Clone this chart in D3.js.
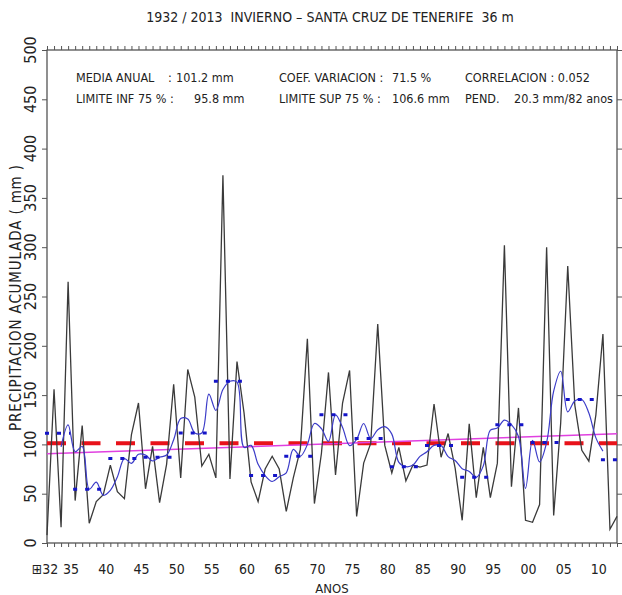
<!DOCTYPE html>
<html>
<head>
<meta charset="utf-8">
<script src="https://cdn.jsdelivr.net/npm/d3@7"></script>
<style>
  html, body { margin: 0; padding: 0; background: #fff; }
  svg { display: block; }
  text { font-family: "Liberation Sans Narrow", "DejaVu Sans Condensed", "Liberation Sans", sans-serif; fill: #222; }
</style>
</head>
<body>
<svg id="chart" width="622" height="595"></svg>
<script>
// ---- data ----
const years = d3.range(1932, 2014);
const precip = [
  8, 156, 16, 265,                 // 1932-1935
  43, 119, 20, 42, 49,             // 1936-1940
  79, 52, 45, 110, 142,            // 1941-1945
  55, 98, 41, 80, 161,             // 1946-1950
  66, 176, 148, 78, 90,            // 1951-1955
  66, 373, 65, 184, 132,           // 1956-1960
  62, 42, 75, 88, 75,              // 1961-1965
  32, 66, 95, 207, 40,             // 1966-1970
  91, 173, 69, 142, 175,           // 1971-1975
  27, 81, 101, 222, 99,            // 1976-1980
  71, 97, 63, 79, 77,              // 1981-1985
  79, 141, 87, 111, 76,            // 1986-1990
  23, 121, 46, 97, 46,             // 1991-1995
  81, 302, 57, 137, 23,            // 1996-2000
  21, 39, 300, 28, 122,            // 2001-2005
  281, 140, 94, 83, 130,           // 2006-2010
  212, 14, 27                      // 2011-2013
];
const mediaAnual = 101.2;
const trendYears = [1932, 2013];
const trendValues = [90.5, 110.8];
const blockStarts = [1932, 1936, 1941, 1946, 1951, 1956, 1961, 1966, 1971, 1976, 1981, 1986, 1991, 1996, 2001, 2006, 2011];
const yTicks = [0, 50, 100, 150, 200, 250, 300, 350, 400, 450, 500];
const xLabelYears = [1932, 1935, 1940, 1945, 1950, 1955, 1960, 1965, 1970, 1975, 1980, 1985, 1990, 1995, 2000, 2005, 2010];
const xLabels = ["⊞32", "35", "40", "45", "50", "55", "60", "65", "70", "75", "80", "85", "90", "95", "00", "05", "10"];
const titleText = "1932 / 2013  INVIERNO – SANTA CRUZ DE TENERIFE  36 m";

// ---- derived: 5-year centred running mean and 5-year block means ----
const series = years.map((yr, i) => ({ year: yr, v: precip[i] }));
const movingAvg = [];
for (let i = 2; i < series.length - 2; i++) {
  movingAvg.push({ year: series[i].year, v: d3.mean(series.slice(i - 2, i + 3), d => d.v) });
}
const blocks = blockStarts.map((s, k) => {
  const e = k < blockStarts.length - 1 ? blockStarts[k + 1] - 1 : 2013;
  const vals = series.filter(d => d.year >= s && d.year <= e).map(d => d.v);
  return { start: s, end: e, v: d3.mean(vals) };
});

// ---- scales ----
const svg = d3.select("#chart");
const x = d3.scaleLinear().domain([1932, 2013]).range([47, 617]);
const y = d3.scaleLinear().domain([0, 500]).range([543, 50]);
const axisColor = "#555";

// title
svg.append("text").attr("x", 330).attr("y", 22).attr("text-anchor", "middle")
  .attr("font-size", 14).style("white-space", "pre").attr("xml:space", "preserve").text(titleText);

// frame
svg.append("rect").attr("x", x(1932)).attr("y", y(500))
  .attr("width", x(2013) - x(1932)).attr("height", y(0) - y(500))
  .attr("fill", "none").attr("stroke", axisColor).attr("stroke-width", 1.3);

// bottom axis ticks (each year)
const gB = svg.append("g").attr("transform", `translate(0,${y(0)})`)
  .call(d3.axisBottom(x).tickValues(years).tickSize(4).tickFormat(""));
// top axis ticks
const gT = svg.append("g").attr("transform", `translate(0,${y(500)})`)
  .call(d3.axisTop(x).tickValues(years).tickSize(4).tickFormat(""));
// left and right axes
const gL = svg.append("g").attr("transform", `translate(${x(1932)},0)`)
  .call(d3.axisLeft(y).tickValues(yTicks).tickSize(5).tickFormat(""));
const gR = svg.append("g").attr("transform", `translate(${x(2013)},0)`)
  .call(d3.axisRight(y).tickValues(yTicks).tickSize(5).tickFormat(""));
[gB, gT, gL, gR].forEach(g => {
  g.select(".domain").remove();
  g.selectAll("line").attr("stroke", axisColor).attr("stroke-width", 1);
});

// y labels (rotated)
svg.append("g").selectAll("text").data(yTicks).join("text")
  .attr("transform", d => `translate(36,${y(d)}) rotate(-90)`)
  .attr("text-anchor", "middle").attr("font-size", 16).attr("fill", "#333").text(d => d);
svg.append("text")
  .attr("transform", `translate(21,${298}) rotate(-90)`)
  .attr("text-anchor", "middle").attr("font-size", 15)
  .attr("textLength", 266).attr("lengthAdjust", "spacing")
  .style("white-space", "pre").attr("xml:space", "preserve")
  .text("PRECIPITACION ACUMULADA ( mm )");

// x labels
svg.append("g").selectAll("text").data(xLabelYears).join("text")
  .attr("x", (d, i) => x(d) + (i === 0 ? -2 : 3)).attr("y", 574)
  .attr("text-anchor", "middle").attr("font-size", 14)
  .text((d, i) => xLabels[i]);
svg.append("text").attr("x", 332).attr("y", 593).attr("text-anchor", "middle")
  .attr("font-size", 13).text("ANOS");

// stats text
const stats = [
  ["MEDIA ANUAL", 76, 82], [":", 168, 82], ["101.2 mm", 176, 82],
  ["COEF. VARIACION :", 279, 82], ["71.5 %", 392, 82], ["CORRELACION : 0.052", 465, 82],
  ["LIMITE INF 75 % :", 76, 103], ["95.8 mm", 194, 103],
  ["LIMITE SUP 75 % :", 279, 103], ["106.6 mm", 392, 103],
  ["PEND.", 465, 103], ["20.3 mm/82 anos", 514, 103]
];
svg.append("g").selectAll("text").data(stats).join("text")
  .attr("x", d => d[1]).attr("y", d => d[2]).attr("font-size", 12.5)
  .style("white-space", "pre").text(d => d[0]);

// mean line (red dashed)
svg.append("line").attr("x1", x(1932)).attr("x2", x(2013))
  .attr("y1", y(mediaAnual)).attr("y2", y(mediaAnual))
  .attr("stroke", "#e8121a").attr("stroke-width", 4).attr("stroke-dasharray", "19 15.5");

// trend line (magenta)
svg.append("line").attr("x1", x(trendYears[0])).attr("x2", x(trendYears[1]))
  .attr("y1", y(trendValues[0])).attr("y2", y(trendValues[1]))
  .attr("stroke", "#e040e0").attr("stroke-width", 1.5);

// data line (black)
svg.append("path").datum(series)
  .attr("d", d3.line().x(d => x(d.year)).y(d => y(d.v)))
  .attr("fill", "none").attr("stroke", "#3a3a3a").attr("stroke-width", 1.3)
  .attr("stroke-linejoin", "miter");

// running mean (blue smooth)
svg.append("path").datum(movingAvg)
  .attr("d", d3.line().curve(d3.curveCatmullRom.alpha(0.5)).x(d => x(d.year)).y(d => y(d.v)))
  .attr("fill", "none").attr("stroke", "#3c3cc8").attr("stroke-width", 1.2);

// block means (blue dotted)
svg.append("g").selectAll("line").data(blocks).join("line")
  .attr("x1", d => x(d.start) - 2).attr("x2", d => x(d.end) + 2)
  .attr("y1", d => y(d.v)).attr("y2", d => y(d.v))
  .attr("stroke", "#1414c8").attr("stroke-width", 3).attr("stroke-dasharray", "4 8");
</script>
</body>
</html>
